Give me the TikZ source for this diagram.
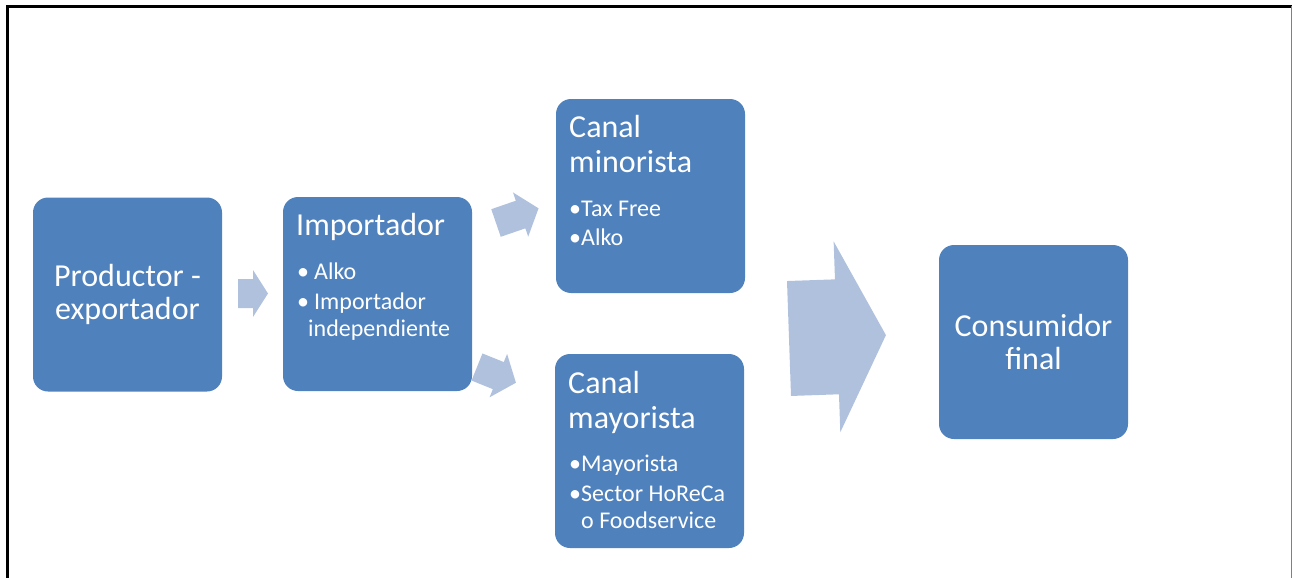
\documentclass[tikz,border=0pt]{standalone}
\usepackage{fontspec}
\setmainfont{Carlito}
\usepackage{tikz}
\usepackage{xcolor}
\usetikzlibrary{positioning,calc}
\definecolor{cajaazul}{RGB}{79,129,189}
\definecolor{flechaazul}{RGB}{176,193,222}
\tikzset{%
	caja/.style    = {fill=cajaazul, rounded corners=15pt, minimum width=189pt, minimum height=194pt, inner sep=0pt},
	titulo/.style  = {text=white, font=\fontsize{32}{35}\selectfont, inner sep=0pt, align=left, anchor=base west},
	centro/.style  = {text=white, font=\fontsize{32}{33}\selectfont, inner sep=0pt, align=center},
	vinetas/.style = {text=white, font=\fontsize{24}{27}\selectfont, inner sep=0pt, align=left, anchor=base west},
	flecha/.style  = {fill=flechaazul},
}
% block arrow: tail centre, angle, length, shaft half width, head half width, head length
\newcommand{\bloque}[6]{%
	\fill[flecha,shift={#1},rotate=#2] (0,-#4) -- ({#3-#6},-#4) -- ({#3-#6},-#5) -- (#3,0) -- ({#3-#6},#5) -- ({#3-#6},#4) -- (0,#4) -- cycle;}
\newcommand{\vin}[1]{\makebox[#1][l]{\textbullet}}

\begin{document}
\begin{tikzpicture}[x=1pt,y=-1pt]
			\useasboundingbox (0,0) rectangle (1293,578);
			\draw[line width=2.5pt] (7.5,590) |- (1292,6.5);
			\draw[gray,line width=1pt] (1291.5,6.5) -- (1291.5,590);
			
			\node[caja] (prod) at (127.5,294.5) {};
			\node[caja] (imp)  at (377.5,294) {};
			\node[caja] (mino) at (650.5,196) {};
			\node[caja] (mayo) at (649.5,451) {};
			\node[caja] (cons) at (1033.5,342) {};
			
			% multi-line nodes sit on the baseline of their last line
			\node[centro] (prodtxt) at (prod) {Productor -\\exportador};
			\node[centro] (constxt) at (cons) {Consumidor\\final};
			
			\node[titulo] (imptit) at (296,235) {Importador};
			\node[vinetas] (impvin) at (297,336) {\vin{17pt}Alko\\[3pt]\vin{17pt}Importador\\\hspace*{11pt}independiente};
			
			\node[titulo] (minotit) at (569,172) {Canal\\minorista};
			\node[vinetas] (minovin) at (569,245) {\vin{12pt}Tax Free\\[2pt]\vin{12pt}Alko};
			
			\node[titulo] (mayotit) at (568,428) {Canal\\mayorista};
			\node[vinetas] (mayovin) at (569,528) {\vin{12pt}Mayorista\\[3pt]\vin{12pt}Sector HoReCa\\\hspace*{12pt}o Foodservice};
			
			\bloque{(238,293.5)}{0}{30}{14.5}{23.5}{15}
			\bloque{(496,223)}{19}{45}{14.6}{23.4}{19}
			\bloque{(477,367)}{-22}{42}{14.6}{23.4}{19}
			\bloque{(789,338.5)}{2}{97}{57.5}{95.5}{49}
\end{tikzpicture}
\end{document}
